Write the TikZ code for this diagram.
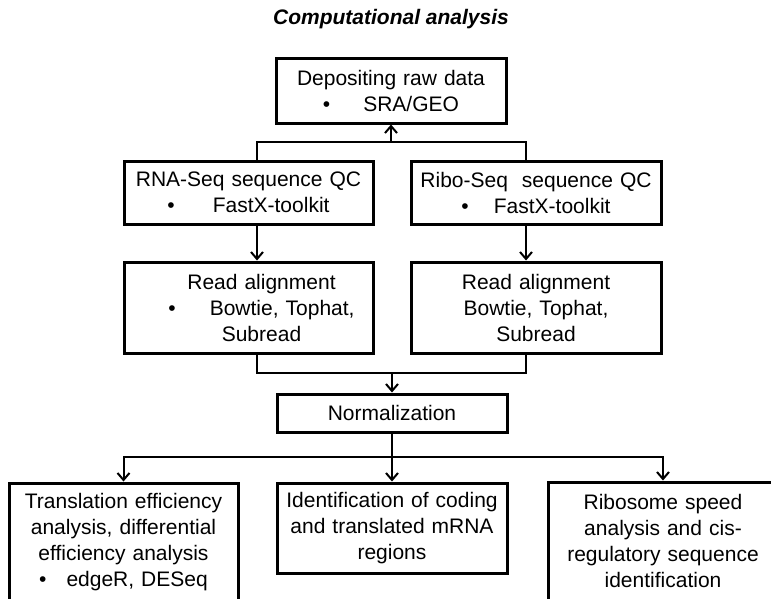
\documentclass[tikz,border=0pt]{standalone}
\usepackage{fontspec}
\setmainfont{Liberation Sans}
\usepackage{tikz}
\usetikzlibrary{arrows.meta, positioning, calc}

\begin{document}
\begin{tikzpicture}[
    x=1pt, y=-1pt,
    node distance=35pt,
    box/.style={rectangle, draw, line width=3pt, inner sep=0pt, align=center, font=\fontsize{21}{26}\selectfont},
    line/.style={line width=2pt},
    arrow/.style={line width=2pt, -{Straight Barb[length=7pt, width=12pt, line width=2pt]}},
]
\useasboundingbox (0,0) rectangle (771,598);
\clip (0,0) rectangle (771,598);

\node[font=\bfseries\itshape\fontsize{21}{26}\selectfont] (title) at (391,19) {Computational analysis};

\node[box, text width=230pt, minimum height=65pt] (dep) at (391,90.5) {Depositing raw data\\\textbullet\hspace{33pt}SRA/GEO};
\node[box, text width=249pt, minimum height=63pt] (rnaqc) [below=of dep, xshift=-142.5pt] {RNA-Seq sequence QC\\\textbullet\hspace{38pt}FastX-toolkit};
\node[box, text width=250pt, minimum height=63pt] (riboqc) [below=of dep, xshift=145pt] {Ribo-Seq\ \ sequence QC\\\textbullet\hspace{25pt}FastX-toolkit};
\node[box, text width=249pt, minimum height=91pt] (rnaalign) [below=of rnaqc] {\hspace*{26pt}Read alignment\\\hspace*{26pt}\textbullet\hspace{34pt}Bowtie, Tophat,\\\hspace*{26pt}Subread};
\node[box, text width=250pt, minimum height=91pt] (riboalign) [below=of riboqc] {Read alignment\hspace*{20pt}\\Bowtie, Tophat,\hspace*{26pt}\\Subread\hspace*{20pt}};
\node[box, text width=230pt, minimum height=38pt] (norm) [below=38pt of rnaalign, xshift=143.5pt] {Normalization};
\node[box, text width=229pt, minimum height=118pt] (teff) [below=48pt of norm, xshift=-268.5pt] {Translation efficiency\\analysis, differential\\efficiency analysis\\\textbullet\hspace{20pt}edgeR, DESeq};
\node[box, text width=230pt, minimum height=90pt] (coding) [below=48pt of norm] {Identification of coding\\and translated mRNA\\regions};
\node[box, text width=230pt, minimum height=118pt] (speed) [below=47pt of norm, xshift=271pt] {Ribosome speed\\analysis and cis-\\regulatory sequence\\identification};

\coordinate (upjoin) at (391,142);
\coordinate (downjoin) at (392,373);
\coordinate (splitjoin) at (392,457);

\draw[line] ([xshift=8.5pt]rnaqc.north) |- (upjoin) -| ([xshift=-10pt]riboqc.north);
\draw[arrow] (upjoin) -- (dep.south);

\draw[arrow] ([xshift=8.5pt]rnaqc.south) -- ([xshift=8.5pt]rnaalign.north);
\draw[arrow] ([xshift=-10pt]riboqc.south) -- ([xshift=-10pt]riboalign.north);

\draw[line] ([xshift=8.5pt]rnaalign.south) |- (downjoin) -| ([xshift=-10pt]riboalign.south);
\draw[arrow] (downjoin) -- (norm.north);

\draw[line] (norm.south) -- (splitjoin);
\draw[arrow] (splitjoin) -| (teff.north);
\draw[arrow] (splitjoin) -- (coding.north);
\draw[arrow] (splitjoin) -| (speed.north);

\end{tikzpicture}
\end{document}
